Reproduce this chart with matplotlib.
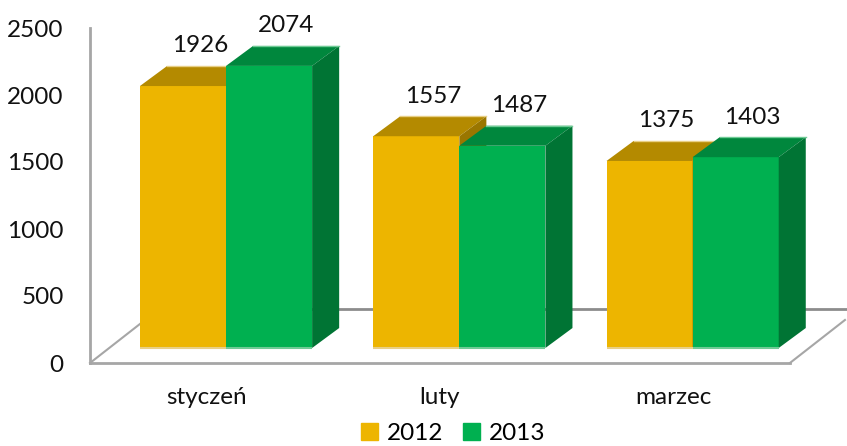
import matplotlib.pyplot as plt
from matplotlib.patches import Polygon, Patch

plt.rcParams['font.family'] = ['Lato', 'DejaVu Sans']

months = ['styczeń', 'luty', 'marzec']
vals_2012 = [1926, 1557, 1375]
vals_2013 = [2074, 1487, 1403]
series = ['2012', '2013']

# front / top / side colours for each series
colors = {
    '2012': ('#EDB500', '#B48A00', '#9A7600', '#E8CF85'),
    '2013': ('#00B050', '#00873D', '#007434', '#6FCB95'),
}

fig = plt.figure(figsize=(8.47, 4.46), dpi=100)
ax = fig.add_axes([90 / 847, 83 / 446, 757 / 847, 335 / 446])
ax.set_xlim(0, 757 / 233.3)
ax.set_ylim(0, 2500)
for s in ax.spines.values():
    s.set_visible(False)

# fake 3D projection parameters (data units)
floor_dx, floor_dv = 0.236, 321     # full depth of the floor
front_dx, front_dv = 0.083, 112     # depth where bar fronts sit
bar_dx, bar_dv = 0.116, 149         # depth of each bar
scale = 1.015                       # bars a touch taller on their front plane
w = 0.369

grey = '#A6A6A6'
ax.plot([0, 0], [0, 2500], color=grey, lw=2, zorder=1, clip_on=False)
ax.plot([0, 3], [0, 0], color=grey, lw=2, zorder=1, clip_on=False)
ax.plot([0, floor_dx], [0, floor_dv], color=grey, lw=1.5, zorder=1, clip_on=False)
ax.plot([3, 3 + floor_dx], [0, floor_dv], color=grey, lw=1.5, zorder=1, clip_on=False)
ax.plot([floor_dx, 757 / 233.3], [403, 403], color='#8C8C8C', lw=2, zorder=1, clip_on=False)

z = 2
for i, m in enumerate(months):
    for j, (name, vals) in enumerate([('2012', vals_2012), ('2013', vals_2013)]):
        v = vals[i]
        h = v * scale
        front, top, side, light = colors[name]
        x0 = i + 0.5 - w + j * w + front_dx
        x1 = x0 + w
        y0 = front_dv
        y1 = h + front_dv
        ax.bar(x0, h, width=w, bottom=y0, align='edge', color=front, lw=0, zorder=z)
        ax.plot([x0, x1], [y0, y0], color=light, lw=1.5, zorder=z + 0.1, solid_capstyle='butt')
        top_poly = Polygon([(x0, y1), (x1, y1), (x1 + bar_dx, y1 + bar_dv), (x0 + bar_dx, y1 + bar_dv)],
                           closed=True, color=top, lw=0, zorder=z)
        ax.add_patch(top_poly)
        ax.plot([x0 + bar_dx, x1 + bar_dx], [y1 + bar_dv, y1 + bar_dv], color=light, lw=1, zorder=z + 0.1)
        side_poly = Polygon([(x1, y0), (x1 + bar_dx, y0 + bar_dv), (x1 + bar_dx, y1 + bar_dv), (x1, y1)],
                            closed=True, color=side, lw=0, zorder=z)
        ax.add_patch(side_poly)
        ax.text((x0 + x1) / 2 + bar_dx / 2 + 0.015, y1 + bar_dv + 150, str(v), ha='center', va='center',
                fontsize=17.5, color='#111111', zorder=10)
        z += 1

ax.set_yticks([0, 500, 1000, 1500, 2000, 2500])
ax.set_yticklabels(['0', '500', '1000', '1500', '2000', '2500'])
ax.set_xticks([0.5, 1.5, 2.5])
ax.set_xticklabels(months)
ax.tick_params(axis='y', length=0, pad=19, labelsize=17.5, labelcolor='#111111')
ax.tick_params(axis='x', length=0, pad=17, labelsize=17.5, labelcolor='#111111')

handles = [Patch(color=colors[s][0]) for s in series]
fig.legend(handles, series, loc='lower center', bbox_to_anchor=(0.535, -0.045), ncol=2,
           frameon=False, fontsize=17.5, handlelength=0.7, handleheight=0.7,
           handletextpad=0.35, columnspacing=0.8)

fig.savefig('out.png', dpi=100)
